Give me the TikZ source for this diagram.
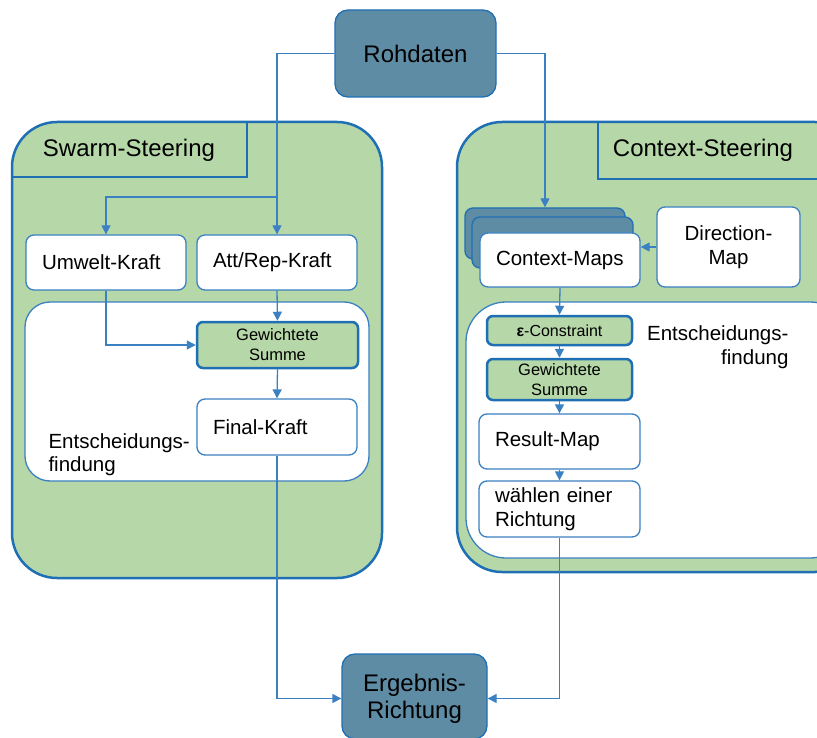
\documentclass[tikz,border=0pt]{standalone}
\usepackage{fontspec}
\setmainfont{Liberation Sans}
\usetikzlibrary{arrows.meta}
\definecolor{lgreen}{HTML}{B6D7A8}
\definecolor{steel}{HTML}{5F8CA5}
\definecolor{edgeblue}{HTML}{1F6FB5}
\definecolor{wire}{HTML}{3A80C2}
\newcommand\fsz[2]{\fontsize{#1}{#2}\selectfont}
\begin{document}
\begin{tikzpicture}[x=1pt,y=-1pt,
  panel/.style={draw=edgeblue, line width=2.5pt, fill=lgreen, rounded corners=45pt},
  innerpanel/.style={draw=wire, line width=1.3pt, fill=white},
  tabline/.style={draw=edgeblue, line width=2.5pt},
  wbox/.style={draw=wire, line width=1.3pt, fill=white, rounded corners=8pt,
    font=\fsz{20.5}{23.5}, align=left, inner xsep=16pt, inner ysep=0pt},
  cbox/.style={draw=wire, line width=1.3pt, fill=white, rounded corners=8pt,
    font=\fsz{20.5}{24}, align=center, inner sep=0pt},
  gbox/.style={draw=edgeblue, line width=2.5pt, fill=lgreen, rounded corners=6pt,
    font=\fsz{16.5}{20}, align=center, inner sep=0pt},
  stackbox/.style={draw=edgeblue, line width=1.3pt, fill=steel, rounded corners=8pt, inner sep=0pt},
  endbox/.style={draw=edgeblue, line width=1.3pt, fill=steel, rounded corners=13pt,
    font=\fsz{24}{27}, align=center, inner sep=0pt},
  title/.style={font=\fsz{24}{28}},
  plain/.style={font=\fsz{20.5}{23}},
  conn/.style={draw=wire, line width=1.3pt},
  arr/.style={conn, -{Triangle[length=9pt,width=9pt]}}]
\useasboundingbox (0,0) rectangle (817,738);
\clip (0,0) rectangle (817,738);

% panels
\draw[panel] (12,122) rectangle (382,578);
\draw[tabline] (247,122) -- (247,177) -- (12,177);
\node[title] (swarmtitle) at (129,150) {Swarm-Steering};
\draw[innerpanel, rounded corners=25pt] (25,302) rectangle (369,481);

\draw[panel] (457,122) rectangle (860,572);
\draw[tabline] (598,122) -- (598,179) -- (860,179);
\node[title] (ctxtitle) at (703,150) {Context-Steering};
\draw[innerpanel, rounded corners=40pt] (466,302) rectangle (850,558);

% top and bottom
\node[endbox, minimum width=161pt, minimum height=87pt] (roh) at (415.5,53.5) {Rohdaten};
\node[endbox, minimum width=145pt, minimum height=85pt, text depth=0pt] (erg) at (414.5,696.5) {Ergebnis-\\Richtung};

% swarm steering
\node[wbox, text width=128pt, minimum height=55pt] (umw) at (106,262.5) {Umwelt-Kraft};
\node[wbox, text width=128pt, minimum height=55pt] (att) at (277,262.5) {Att/Rep-Kraft};
\node[gbox, minimum width=161pt, minimum height=46pt] (gewl) at (277.5,345) {Gewichtete\\Summe};
\node[wbox, text width=128pt, minimum height=56pt] (fin) at (277,427) {Final-Kraft};
\node[plain, anchor=west, align=left] (entl) at (45,455) {Entscheidungs-\\findung};

% context steering
\node[stackbox, minimum width=160pt, minimum height=51pt] (cmback) at (545,233.5) {};
\node[stackbox, minimum width=161pt, minimum height=51pt] (cmmid) at (552.5,242.5) {};
\node[wbox, text width=128pt, minimum height=54pt] (cm) at (560,260) {Context-Maps};
\node[cbox, minimum width=143pt, minimum height=80pt] (dir) at (728.5,247) {Direction-\\Map};
\node[gbox, minimum width=145pt, minimum height=29pt, font=\fsz{16}{19}] (eps) at (559.5,330.5) {{\bfseries ε}-Constraint};
\node[gbox, minimum width=145pt, minimum height=41pt] (gewr) at (559.5,379.5) {Gewichtete\\Summe};
\node[wbox, text width=129pt, minimum height=55pt] (res) at (559.5,441.5) {Result-Map};
\node[wbox, text width=129pt, minimum height=56pt] (wahl) at (559.5,509) {wählen einer\\Richtung};
\node[plain, anchor=east, align=right, font=\fsz{20.5}{24}] (entr) at (792,347) {Entscheidungs-\\findung};

% connectors
\coordinate (split) at (277,197);
\draw[arr] (roh.west) -| (att.north);
\draw[arr] (split) -| (umw.north);
\draw[arr] (roh.east) -| (cmback.north);
\draw[arr] (att.south) -- (gewl.north);
\draw[arr] (umw.south) |- (gewl.west);
\draw[arr] (gewl.south) -- (fin.north);
\draw[arr] (fin.south) |- ([yshift=-2pt]erg.west);
\draw[arr] (dir.west) -- (cm.east |- dir.west);
\draw[arr] (cm.south) -- (eps.north);
\draw[arr] (eps.south) -- (gewr.north);
\draw[arr] (gewr.south) -- (res.north);
\draw[arr] (res.south) -- (wahl.north);
\draw[arr] (wahl.south) |- ([yshift=-2pt]erg.east);
\end{tikzpicture}
\end{document}
